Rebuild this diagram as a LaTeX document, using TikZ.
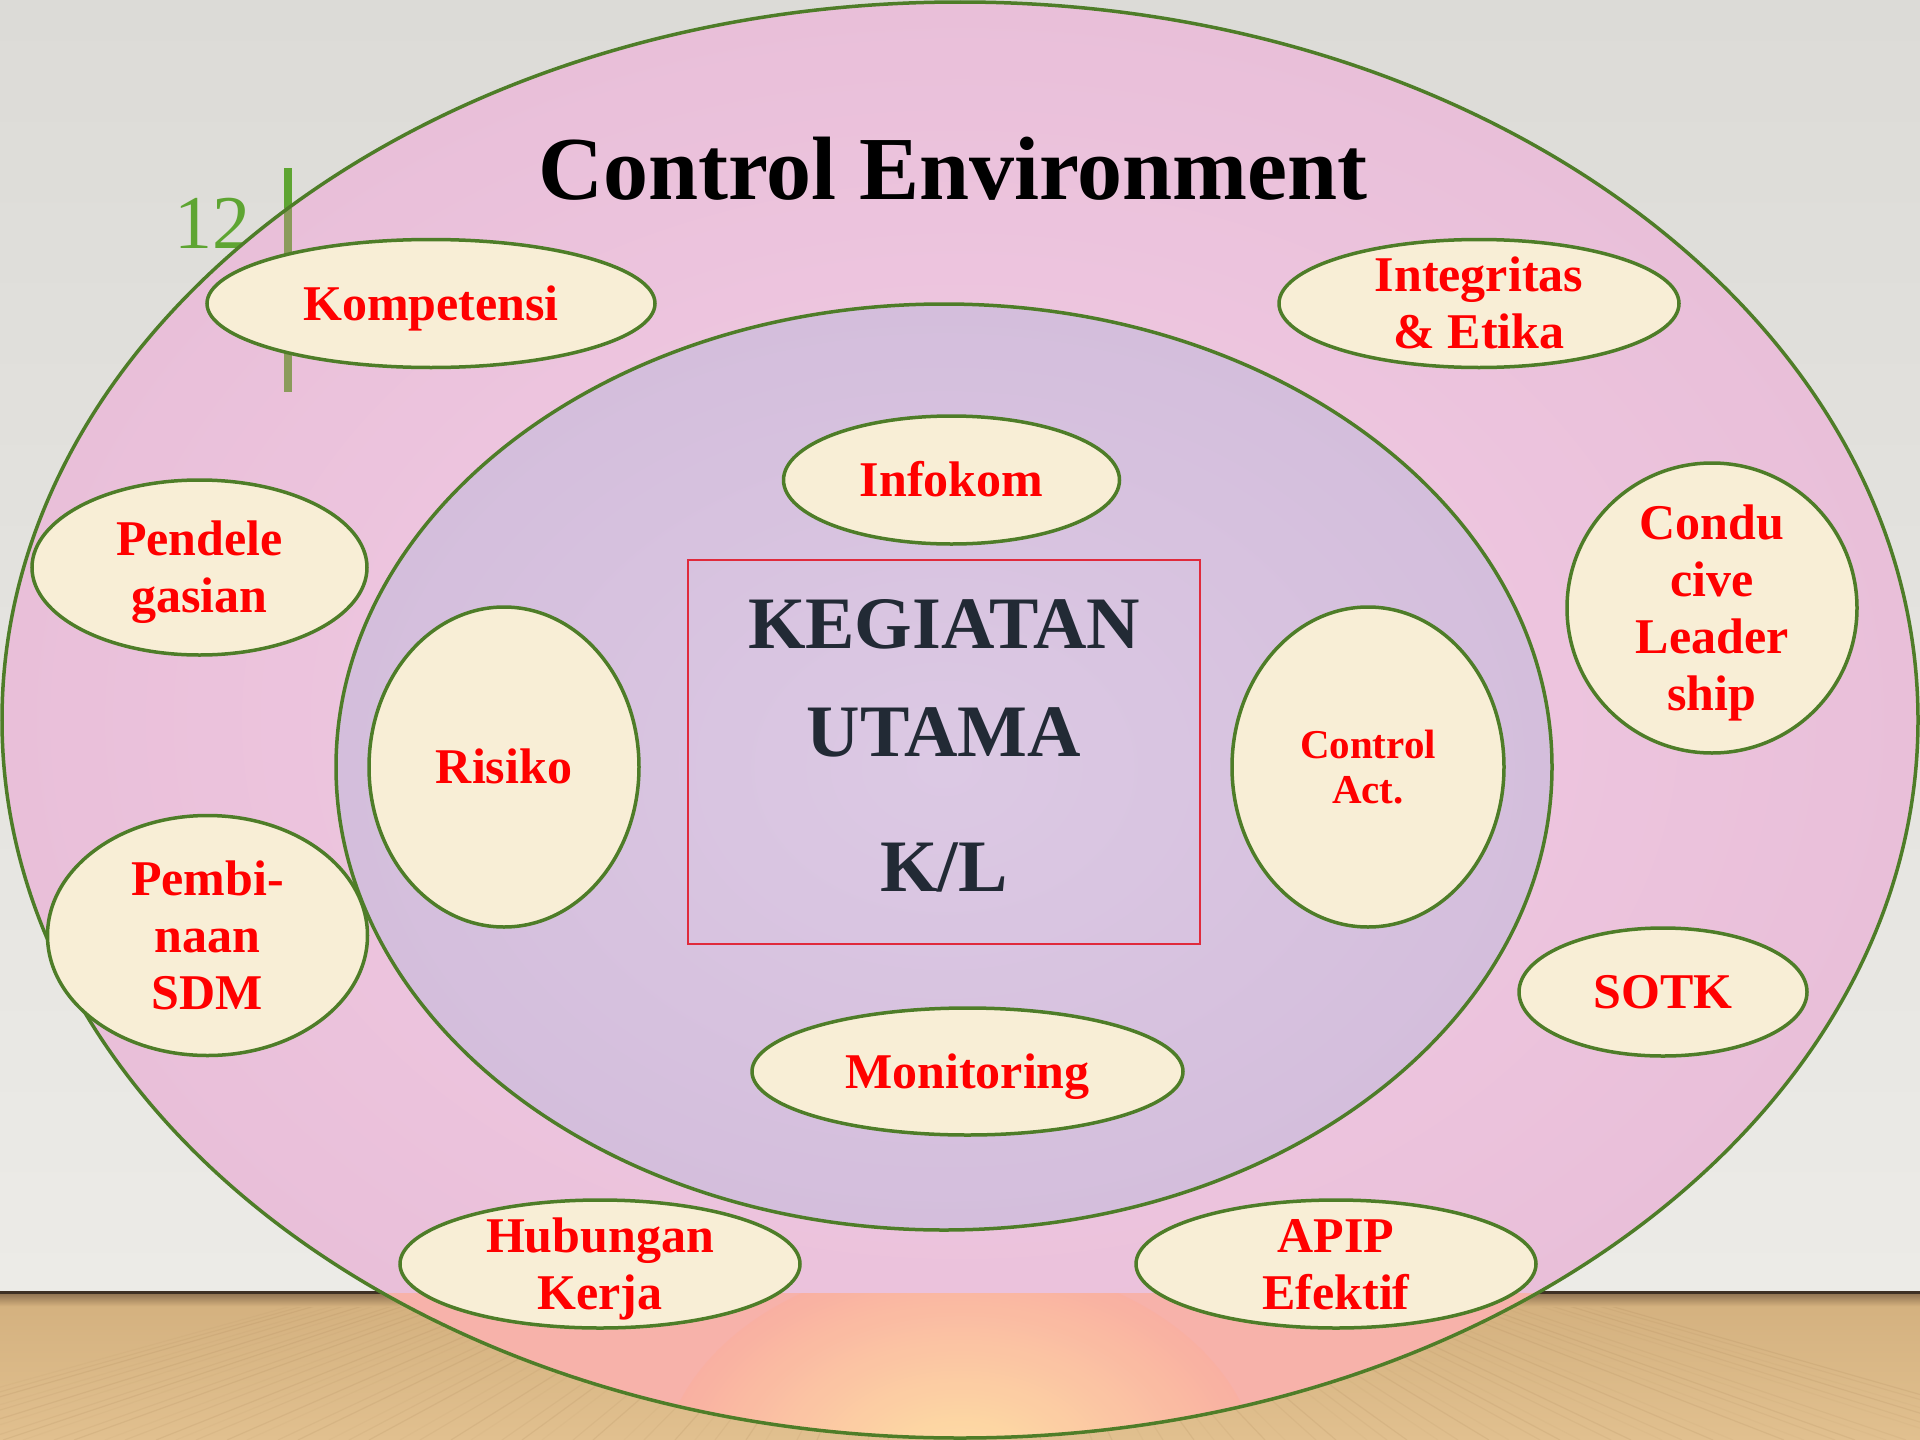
\documentclass[tikz,border=0pt]{standalone}
\usepackage{fontspec}
\setmainfont{Liberation Serif}
\usetikzlibrary{shapes.geometric}

% palette
\definecolor{walltop}{HTML}{DCDBD7}
\definecolor{wallbot}{HTML}{ECEBE7}
\definecolor{floortop}{HTML}{D3B07E}
\definecolor{floorbot}{HTML}{E1C08F}
\definecolor{floorshadow}{HTML}{8E7150}
\definecolor{skirting}{HTML}{3E3024}
\definecolor{woodgrain}{HTML}{9A7448}
\definecolor{salmon}{HTML}{FAB0A2}
\definecolor{glow}{HTML}{FFE9A4}
\definecolor{pinkin}{HTML}{F3CDE6}
\definecolor{pinkout}{HTML}{E9BFD9}
\definecolor{lavin}{HTML}{DCC9E4}
\definecolor{lavout}{HTML}{D4BEDC}
\definecolor{edgegreen}{HTML}{4E7D28}
\definecolor{cream}{HTML}{F8EED6}
\definecolor{labelred}{HTML}{FF0000}
\definecolor{navy}{HTML}{222A35}
\definecolor{boxred}{HTML}{E02A3C}
\definecolor{numgreen}{HTML}{5EA532}
\definecolor{olive}{HTML}{8B9B5B}

% multi-line labels sit on their last baseline: the text height spans
% from the first cap line down to that baseline
\tikzset{
  bubble/.style={ellipse, draw=edgegreen, line width=3.5pt, fill=cream,
    inner sep=0pt, outer sep=0pt, text=labelred, align=center,
    font=\fontsize{50}{57}\selectfont\bfseries, text height=33pt, text depth=0pt},
  smallbubble/.style={bubble, font=\fontsize{41}{45}\selectfont\bfseries,
    text height=72pt},
  ring/.style={draw=edgegreen, line width=3.5pt},
}

\begin{document}
\begin{tikzpicture}[x=1pt,y=-1pt]
\useasboundingbox (0,0) rectangle (1920,1440);

% wall and floor
\shade[top color=walltop, bottom color=wallbot] (0,0) rectangle (1920,1293);
\shade[top color=floortop, bottom color=floorbot] (0,1293) rectangle (1920,1440);
\foreach \k in {0,...,90}{
  \pgfmathsetmacro\xb{mod(\k*173,2300)-190}
  \pgfmathsetmacro\op{0.05+0.04*mod(\k,3)}
  \draw[woodgrain, line width=1.2pt, opacity=\op]
    ({960+(\xb-960)*0.55},1296) -- (\xb,1440);
}
\shade[top color=floorshadow, bottom color=floortop] (0,1293) rectangle (1920,1306);
\draw[skirting, line width=3pt] (0,1292) -- (1920,1292);

% page number and rule
\node[anchor=base, text=numgreen, font=\fontsize{76}{80}\selectfont]
  (pgnum) at (212,248) {12};
\draw[numgreen, line width=8pt] (288,168) -- (288,208);

% outer ring: control environment
\shade[inner color=pinkin, outer color=pinkout]
  (960,720) ellipse [x radius=958pt, y radius=718pt];
\begin{scope}
  \clip (960,720) ellipse [x radius=958pt, y radius=718pt];
  \clip (0,1293) rectangle (1920,1440);
  \fill[salmon, opacity=0.85] (0,1293) rectangle (1920,1440);
  \shade[inner color=glow, outer color=salmon, opacity=0.9]
    (960,1480) ellipse [x radius=300pt, y radius=220pt];
\end{scope}
\draw[olive, line width=8pt] (288,208) -- (288,392);
\draw[ring] (960,720) ellipse [x radius=958pt, y radius=718pt];

\node[anchor=base, font=\fontsize{90}{110}\selectfont\bfseries]
  (title) at (953,199) {Control Environment};

% inner ring
\shade[inner color=lavin, outer color=lavout]
  (944,767) ellipse [x radius=608pt, y radius=463pt];
\draw[ring] (944,767) ellipse [x radius=608pt, y radius=463pt];

% central box
\node[draw=boxred, line width=2pt, minimum width=512pt, minimum height=384pt,
      inner sep=0pt, text=navy, align=center,
      font=\fontsize{74}{108}\selectfont\bfseries,
      text height=292pt, text depth=13pt]
  (core) at (944,752) {KEGIATAN\\UTAMA\\[27pt]K/L};

% outer ring elements
\node[bubble, minimum width=448pt, minimum height=128pt]
  (komp) at (431,303.5) {Kompetensi};
\node[bubble, minimum width=400pt, minimum height=128pt, text height=90pt]
  (integ) at (1479,303.5) {Integritas\\\& Etika};
\node[bubble, minimum width=335pt, minimum height=175pt, text height=90pt]
  (pend) at (199.5,567.5) {Pendele\\gasian};
\node[bubble, minimum width=320pt, minimum height=240pt, text height=147pt]
  (pemb) at (207.5,935.5) {Pembi-\\naan\\SDM};
\node[bubble, minimum width=290pt, minimum height=290pt, text height=204pt]
  (cond) at (1712,608) {Condu\\cive\\Leader\\ship};
\node[bubble, minimum width=288pt, minimum height=128pt]
  (sotk) at (1663,992) {SOTK};
\node[bubble, minimum width=400pt, minimum height=128pt, text height=90pt]
  (hub) at (600,1264) {Hubungan\\Kerja};
\node[bubble, minimum width=400pt, minimum height=128pt, text height=90pt]
  (apip) at (1336,1264) {APIP\\Efektif};

% inner ring elements
\node[bubble, minimum width=336pt, minimum height=128pt]
  (info) at (951.5,480) {Infokom};
\node[bubble, minimum width=270pt, minimum height=320pt]
  (risk) at (504,767) {Risiko};
\node[smallbubble, minimum width=272pt, minimum height=320pt]
  (ctrl) at (1368,767) {Control\\Act.};
\node[bubble, minimum width=431pt, minimum height=127pt]
  (moni) at (967.5,1071.5) {Monitoring};

\end{tikzpicture}
\end{document}
